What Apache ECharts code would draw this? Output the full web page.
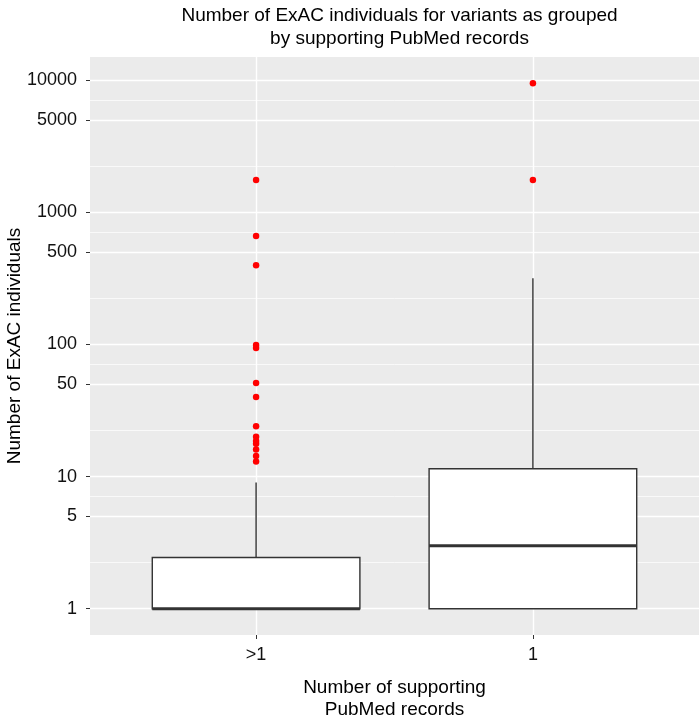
<!DOCTYPE html>
<html>
<head>
<meta charset="utf-8">
<script src="https://cdn.jsdelivr.net/npm/echarts@6/dist/echarts.min.js"></script>
<style>html,body{margin:0;padding:0;background:#fff}#c{width:700px;height:718px}</style>
</head>
<body>
<div id="c"></div>
<script>
// ---- data (raw values, log10 scale applied when plotting) ----
const categories = ['>1', '1'];
const boxMin    = [1, 1];
const boxQ1     = [1, 1];
const boxMedian = [1, 3];
const boxQ3     = [2.44, 11.45];
const boxMax    = [9, 316];
const outliersGt1 = [1750, 660, 397, 99, 94, 51, 40, 24, 20, 18.6, 17.7, 16, 14.3, 13];
const outliersEq1 = [9440, 1750];
const yTickValues = [1, 5, 10, 50, 100, 500, 1000, 5000, 10000];

const L = Math.log10;
const FONT = 'Liberation Sans';

const boxData = categories.map((c, i) => [i, L(boxMin[i]), L(boxQ1[i]), L(boxMedian[i]), L(boxQ3[i]), L(boxMax[i])]);
const outlierData = []
  .concat(outliersGt1.map(v => [0, L(v)]))
  .concat(outliersEq1.map(v => [1, L(v)]));

const allVals = [].concat(boxMin, boxMax, outliersGt1, outliersEq1).map(L);
const lo = Math.min.apply(null, allVals), hi = Math.max.apply(null, allVals);
const pad = 0.05 * (hi - lo);
const yMinV = lo - pad, yMaxV = hi + pad;

const majorTicks = yTickValues.map(L);
const minorTicks = [];
for (let i = 0; i < majorTicks.length - 1; i++) minorTicks.push((majorTicks[i] + majorTicks[i + 1]) / 2);
minorTicks.unshift(majorTicks[0] - (majorTicks[1] - majorTicks[0]) / 2);

const BOX_HALF = 0.375;

const option = {
  animation: false,
  backgroundColor: '#fff',
  title: {
    text: 'Number of ExAC individuals for variants as grouped\nby supporting PubMed records',
    left: 394.5, top: -1, textAlign: 'center',
    textStyle: { fontFamily: FONT, fontSize: 19, fontWeight: 'normal', color: '#000', lineHeight: 23 }
  },
  grid: { left: 90, right: 1, top: 57, bottom: 83, show: true, backgroundColor: '#EBEBEB', borderWidth: 0,
          containLabel: false, outerBoundsMode: 'none' },
  xAxis: {
    type: 'value', min: -0.6, max: 1.6,
    name: 'Number of supporting\nPubMed records', nameLocation: 'middle', nameGap: 42,
    nameTextStyle: { fontFamily: FONT, fontSize: 19, color: '#000', lineHeight: 22 },
    axisLine: { show: false, onZero: false },
    axisTick: { show: true, length: 4, customValues: [0, 1], lineStyle: { color: '#333', width: 1 } },
    axisLabel: { customValues: [0, 1], margin: 11, fontFamily: FONT, fontSize: 18, color: '#111',
      formatter: v => categories[Math.round(v)] },
    splitLine: { show: true, lineStyle: { color: '#fff', width: 1.4 } }
  },
  yAxis: [{
    type: 'value', min: yMinV, max: yMaxV,
    name: 'Number of ExAC individuals', nameLocation: 'middle', nameGap: 66, nameRotate: 90,
    nameMoveOverlap: false,
    nameTextStyle: { fontFamily: FONT, fontSize: 19, color: '#000' },
    axisLine: { show: false, onZero: false },
    axisTick: { show: true, length: 4, customValues: majorTicks, lineStyle: { color: '#333', width: 1 } },
    axisLabel: { customValues: majorTicks, margin: 13, fontFamily: FONT, fontSize: 18, color: '#111',
      formatter: v => String(Math.round(Math.pow(10, v))) },
    splitLine: { show: true, lineStyle: { color: '#fff', width: 1.4 } }
  }, {
    type: 'value', min: yMinV, max: yMaxV, position: 'left',
    axisLine: { show: false, onZero: false },
    axisTick: { show: false, customValues: minorTicks },
    axisLabel: { show: false },
    splitLine: { show: true, lineStyle: { color: '#fff', width: 0.7 } }
  }],
  series: [{
    type: 'custom',
    xAxisIndex: 0, yAxisIndex: 0,
    data: boxData,
    encode: { x: 0, y: [1, 2, 3, 4, 5] },
    z: 2,
    renderItem: function (params, api) {
      const x = api.value(0);
      const pMin = api.coord([x, api.value(1)]);
      const pQ1 = api.coord([x, api.value(2)]);
      const pMed = api.coord([x, api.value(3)]);
      const pQ3 = api.coord([x, api.value(4)]);
      const pMax = api.coord([x, api.value(5)]);
      const left = api.coord([x - BOX_HALF, api.value(3)])[0];
      const right = api.coord([x + BOX_HALF, api.value(3)])[0];
      const ls = { stroke: '#333', lineWidth: 1.4 };
      return {
        type: 'group',
        children: [
          { type: 'line', shape: { x1: pQ3[0], y1: pQ3[1], x2: pMax[0], y2: pMax[1] }, style: ls },
          { type: 'line', shape: { x1: pQ1[0], y1: pQ1[1], x2: pMin[0], y2: pMin[1] }, style: ls },
          { type: 'rect', shape: { x: left, y: pQ3[1], width: right - left, height: pQ1[1] - pQ3[1] },
            style: { fill: '#fff', stroke: '#333', lineWidth: 1.4 } },
          { type: 'line', shape: { x1: left, y1: pMed[1], x2: right, y2: pMed[1] },
            style: { stroke: '#333', lineWidth: 3 } }
        ]
      };
    }
  }, {
    type: 'scatter',
    xAxisIndex: 0, yAxisIndex: 0,
    data: outlierData,
    symbol: 'circle', symbolSize: 6.5,
    itemStyle: { color: '#FF0000', opacity: 1 },
    z: 3
  }]
};

const chart = echarts.init(document.getElementById('c'), null, { renderer: 'canvas' });
chart.setOption(option);
</script>
</body>
</html>
